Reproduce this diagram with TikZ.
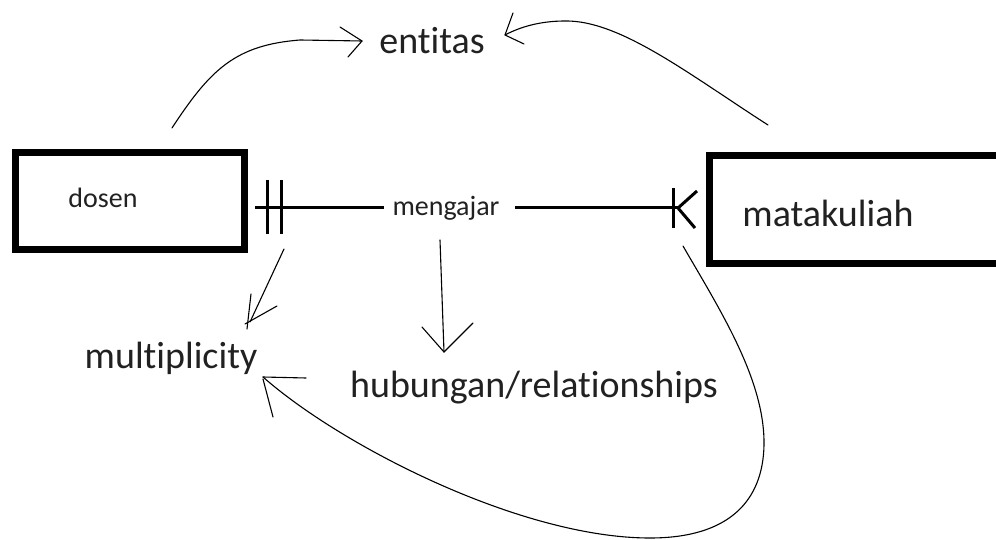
\documentclass[tikz,border=0pt]{standalone}
\usepackage{fontspec}
\setmainfont{Carlito}[RawFeature={-liga;-dlig;-clig}]
\begin{document}
\begin{tikzpicture}[x=1pt,y=-1pt,
  box/.style={draw, line width=7pt, inner sep=0pt},
  lbl/.style={inner sep=0pt, anchor=base, text=black!87},
  big/.style={lbl, font=\fontsize{38}{40}\selectfont},
  small/.style={lbl, font=\fontsize{28}{30}\selectfont},
  rel/.style={line width=3pt},
  pen/.style={line width=1.1pt, line cap=round, line join=round}]
\useasboundingbox (0,0) rectangle (996,540);
\begin{scope}
\clip (0,0) rectangle (996,540);
\node[box, minimum width=229.5pt, minimum height=96.5pt] (dosenbox) at (129.75,201.25) {};
\node[box, minimum width=293pt, minimum height=108pt] (matabox) at (856,209.5) {};
\end{scope}
% texts
\node[small] (dosen) at (103,208) {dosen};
\node[small] (mengajar) at (446,216) {mengajar};
\node[big] (entitas) at (432,54) {entitas};
\node[big] (matakuliah) at (828,226) {matakuliah};
\node[big] (multiplicity) at (171,368) {multiplicity};
\node[big] (hubungan) at (534,397) {hubungan/relationships};
% relationship line
\coordinate (l0) at (255,208);
\coordinate (l1) at (384,208);
\coordinate (r0) at (515,208);
\coordinate (r1) at (678,208);
\draw[rel] (l0) -- (l1);
\draw[rel] (r0) -- (r1);
% one and only one
\draw[rel] (267,180) -- (267,234);
\draw[rel] (281,180) -- (281,234);
% crow's foot
\draw[rel] (673,188) -- (673,228);
\draw[rel] (r1) -- (697,191);
\draw[rel] (r1) -- (695,228);
% annotation arrows
\coordinate (e1) at (362,41);
\draw[pen] (172,128) .. controls (210,70) and (235,45) .. (300,40) -- (e1);
\draw[pen] (340,27) -- (e1) -- (348,57);
\coordinate (e2) at (505,35);
\draw[pen] (768,125) .. controls (690,75) and (620,20) .. (565,21) .. controls (540,21) and (520,27) .. (e2);
\draw[pen] (513,13) -- (e2) -- (524,44);
\coordinate (h1) at (444,352);
\draw[pen] (440,240) -- (h1);
\draw[pen] (422,327) -- (h1) -- (473,323);
\coordinate (m1) at (250,322);
\draw[pen] (284,249) -- (m1);
\draw[pen] (251,294) -- (247,329);
\draw[pen] (277,306) -- (245,324);
\coordinate (m2) at (263,377);
\draw[pen] (683,246) .. controls (720,310) and (765,380) .. (764,445) .. controls (763,500) and (730,538) .. (650,538) .. controls (520,538) and (340,445) .. (m2);
\draw[pen] (m2) -- (306,378);
\draw[pen] (263,379) -- (273,417);
\end{tikzpicture}
\end{document}
